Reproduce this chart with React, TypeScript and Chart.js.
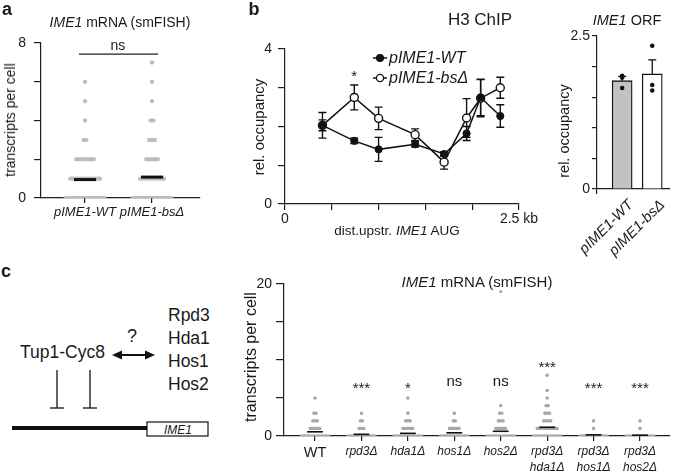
import React, { useEffect, useRef } from 'react';
import { Chart, registerables } from 'chart.js';

Chart.register(...registerables);

const FONT = "'Liberation Sans', Arial, Helvetica, sans-serif";
const AX = '#1e1e1e';
const TXT = '#1a1a1a';
Chart.defaults.font.family = FONT;
Chart.defaults.color = TXT;

// ---------------- data ----------------
// panel a : IME1 mRNA (smFISH), dots per row at each transcript level
const aCategories = ['pIME1-WT', 'pIME1-bsΔ'];
const aLevels = [0, 1, 2, 3, 4, 5, 6, 7];
const aDotsWT = [14, 11, 7, 2, 1, 1, 1, 0];
const aDotsBs = [14, 9, 5, 3, 2, 1, 1, 1];
const aMeans = [0.95, 1.08];
const aSigText = 'ns';
const aYTicks = [0, 8];

// panel b : H3 ChIP
const bDistKb = [0.4, 0.74, 1.0, 1.39, 1.7, 1.94, 2.09, 2.3];
const bWT = [2.03, 1.63, 1.41, 1.54, 1.29, 1.82, 2.75, 2.27];
const bWTErr = [0.33, 0.07, 0.31, 0.07, 0.06, 0.18, 0.47, 0.29];
const bBs = [2.03, 2.75, 2.21, 1.79, 1.08, 2.22, 2.73, 3.0];
const bBsErr = [0.14, 0.32, 0.29, 0.15, 0.18, 0.5, 0.48, 0.27];
const bSeries = ['pIME1-WT', 'pIME1-bsΔ'];
const bStar = { x: 0.74, y: 3.17, text: '*' };

// panel b : IME1 ORF
const orfCategories = ['pIME1-WT', 'pIME1-bsΔ'];
const orfMeans = [1.77, 1.88];
const orfErr = [0.07, 0.23];
const orfRepsWT = [1.85, 1.82, 1.65];
const orfRepsBs = [2.34, 1.7, 1.61];

// panel c : IME1 mRNA (smFISH) in HDAC mutants
const cCategories = [
  ['WT'],
  ['rpd3Δ'],
  ['hda1Δ'],
  ['hos1Δ'],
  ['hos2Δ'],
  ['rpd3Δ', 'hda1Δ'],
  ['rpd3Δ', 'hos1Δ'],
  ['rpd3Δ', 'hos2Δ'],
];
const cLevels = [0, 1, 2, 3, 4, 5, 6, 7, 8];
const cDots = [
  [12, 5, 3, 2, 0, 1, 0, 0, 0],
  [12, 3, 2, 1, 0, 0, 0, 0, 0],
  [12, 5, 3, 1, 0, 1, 0, 0, 0],
  [12, 5, 2, 1, 0, 0, 0, 0, 0],
  [12, 5, 3, 2, 1, 0, 0, 0, 0],
  [12, 9, 4, 3, 2, 1, 1, 0, 1],
  [12, 1, 1, 0, 0, 0, 0, 0, 0],
  [12, 1, 1, 0, 0, 0, 0, 0, 0],
];
const cOutliers = [[], [], [], [], [19], [], [], []];
const cMeans = [0.55, 0.22, 0.35, 0.42, 0.62, 1.15, 0.15, 0.1];
const cSig = ['', '***', '*', 'ns', 'ns', '***', '***', '***'];
const cSigY = [0, 5.7, 5.7, 6.55, 6.55, 8.45, 5.7, 5.7];
const cYTicks = [0, 20];

// ---------------- helpers ----------------
function beeswarmRows(rowsPerCat: number[][], levels: number[], spacing: number, radius: number, color: string) {
  const out: any[] = [];
  rowsPerCat.forEach((rows, ci) => {
    rows.forEach((n, li) => {
      if (!n) return;
      const half = ((n - 1) / 2) * spacing;
      out.push({
        type: 'scatter',
        showLine: true,
        data: [
          { x: ci + 1 - half, y: levels[li] },
          { x: ci + 1 + half, y: levels[li] },
        ],
        borderColor: color,
        borderWidth: radius * 2,
        borderCapStyle: 'butt',
        pointRadius: radius,
        pointBackgroundColor: color,
        pointBorderWidth: 0,
        order: 3,
      });
    });
  });
  return out;
}

function meanLines(means: number[], half: number, width: number) {
  return means.map((m, i) => ({
    type: 'scatter',
    showLine: true,
    data: [
      { x: i + 1 - half, y: m },
      { x: i + 1 + half, y: m },
    ],
    borderColor: '#111',
    borderWidth: width,
    pointRadius: 0,
    order: 0,
  }));
}

function drawErrors(chart: any, when: string) {
  const { ctx } = chart;
  chart.data.datasets.forEach((ds: any, di: number) => {
    const eb = ds.errorBars;
    if (!eb || eb.when !== when) return;
    const meta = chart.getDatasetMeta(di);
    const ys = chart.scales[meta.yAxisID];
    ctx.save();
    ctx.strokeStyle = eb.color;
    ctx.lineWidth = eb.width;
    meta.data.forEach((el: any, i: number) => {
      const raw = ds.data[i];
      const v = typeof raw === 'number' ? raw : raw.y;
      const e = eb.values[i];
      const x = el.x;
      const yTop = ys.getPixelForValue(v + e);
      const yBot = ys.getPixelForValue(eb.upperOnly ? v : v - e);
      ctx.beginPath();
      ctx.moveTo(x, yTop);
      ctx.lineTo(x, yBot);
      ctx.moveTo(x - eb.cap, yTop);
      ctx.lineTo(x + eb.cap, yTop);
      if (!eb.upperOnly) {
        ctx.moveTo(x - eb.cap, yBot);
        ctx.lineTo(x + eb.cap, yBot);
      }
      ctx.stroke();
    });
    ctx.restore();
  });
}

const errorPlugin = {
  id: 'errorBars',
  beforeDatasetsDraw(chart: any) {
    drawErrors(chart, 'before');
  },
  afterDatasetsDraw(chart: any) {
    drawErrors(chart, 'after');
  },
};

function makeTextPlugin(items: { x: number; y: number; text: string }[], size: number) {
  return {
    id: 'dataText',
    afterDatasetsDraw(chart: any) {
      const { ctx } = chart;
      const xs = chart.scales.x;
      const ys = chart.scales.y;
      ctx.save();
      ctx.fillStyle = TXT;
      ctx.textAlign = 'center';
      ctx.textBaseline = 'alphabetic';
      ctx.font = `${size}px ${FONT}`;
      items.forEach((it) => {
        if (!it.text) return;
        ctx.fillText(it.text, xs.getPixelForValue(it.x), ys.getPixelForValue(it.y));
      });
      ctx.restore();
    },
  };
}

function axis(extra: any, tickLength: number, padding: number, fontSize: number) {
  return {
    type: 'linear',
    grid: { display: true, drawOnChartArea: false, drawTicks: true, tickLength, color: AX, lineWidth: 1.2 },
    border: { display: true, color: AX, width: 1.2 },
    ...extra,
    ticks: {
      color: TXT,
      padding,
      autoSkip: false,
      maxRotation: 0,
      minRotation: 0,
      font: { family: FONT, size: fontSize },
      ...(extra.ticks || {}),
    },
  };
}

function base(padding: any) {
  return {
    responsive: false,
    maintainAspectRatio: false,
    animation: false,
    events: [],
    layout: { padding },
    plugins: { legend: { display: false }, tooltip: { enabled: false }, title: { display: false } },
  };
}

// ---------------- chart configs ----------------
function configA(): any {
  const spacing = 3 / 67;
  const datasets: any[] = [
    ...meanLines(aMeans, 0.165, 3),
    ...beeswarmRows([aDotsWT, aDotsBs], aLevels, spacing, 2, '#bdbdbd'),
    {
      type: 'scatter',
      showLine: true,
      data: [
        { x: 0.91, y: 7.43 },
        { x: 2.09, y: 7.43 },
      ],
      borderColor: AX,
      borderWidth: 1.2,
      pointRadius: 0,
      order: 0,
    },
  ];
  return {
    type: 'scatter',
    data: { datasets },
    options: {
      ...base({ left: 0, top: 43, right: 12, bottom: 0 }),
      scales: {
        x: axis(
          {
            min: 0.343,
            max: 2.716,
            afterBuildTicks: (s: any) => {
              s.ticks = aCategories.map((_, i) => ({ value: i + 1 }));
            },
            afterFit: (s: any) => {
              s.height = 42;
            },
            ticks: { callback: (_v: any, i: number) => aCategories[i], font: { family: FONT, size: 13, style: 'italic' } },
          },
          5,
          2,
          13
        ),
        y: axis(
          {
            min: 0,
            max: 8,
            afterFit: (s: any) => {
              s.width = 41;
            },
            ticks: { stepSize: 2, callback: (v: number) => (aYTicks.includes(v) ? String(v) : '') },
          },
          7,
          8,
          14
        ),
      },
    },
    plugins: [makeTextPlugin([{ x: 1.49, y: 7.63, text: aSigText }], 14)],
  };
}

function configBLine(): any {
  return {
    type: 'scatter',
    data: {
      datasets: [
        {
          label: bSeries[0],
          showLine: true,
          data: bDistKb.map((x, i) => ({ x, y: bWT[i] })),
          borderColor: '#111',
          borderWidth: 1.5,
          pointRadius: 3.6,
          pointBackgroundColor: '#111',
          pointBorderColor: '#111',
          pointBorderWidth: 1,
          errorBars: { values: bWTErr, cap: 4, width: 1.4, color: '#111', when: 'before' },
          order: 0,
        },
        {
          label: bSeries[1],
          showLine: true,
          data: bDistKb.map((x, i) => ({ x, y: bBs[i] })),
          borderColor: '#111',
          borderWidth: 1.5,
          pointRadius: 4,
          pointBackgroundColor: '#fff',
          pointBorderColor: '#111',
          pointBorderWidth: 1.4,
          errorBars: { values: bBsErr, cap: 4, width: 1.4, color: '#111', when: 'before' },
          order: 1,
        },
      ],
    },
    options: {
      ...base({ left: 0, top: 49, right: 33, bottom: 0 }),
      scales: {
        x: axis(
          {
            min: 0,
            max: 2.5,
            afterFit: (s: any) => {
              s.height = 36;
            },
            ticks: {
              stepSize: 0.5,
              callback: (v: number) => (v === 0 ? '0' : Math.abs(v - 2.5) < 1e-6 ? '2.5 kb' : ''),
            },
          },
          6,
          1,
          14
        ),
        y: axis(
          {
            min: 0,
            max: 4,
            afterFit: (s: any) => {
              s.width = 53;
            },
            ticks: { stepSize: 1, callback: (v: number) => (v === 0 || v === 4 ? String(v) : '') },
          },
          7,
          6,
          14
        ),
      },
    },
    plugins: [errorPlugin, makeTextPlugin([bStar], 15)],
  };
}

function configBBar(): any {
  return {
    type: 'bar',
    data: {
      datasets: [
        {
          type: 'scatter',
          data: [
            ...orfRepsWT.map((y) => ({ x: 1, y })),
            ...orfRepsBs.map((y) => ({ x: 2, y })),
          ],
          pointRadius: 2.3,
          pointBackgroundColor: '#111',
          pointBorderWidth: 0,
          order: 0,
        },
        {
          type: 'bar',
          data: orfMeans.map((y, i) => ({ x: i + 1, y })),
          backgroundColor: ['#c2c2c2', '#ffffff'],
          borderColor: '#111',
          borderWidth: 1.3,
          barThickness: 20,
          errorBars: { values: orfErr, cap: 4, width: 1.3, color: '#111', upperOnly: true, when: 'after' },
          order: 1,
        },
      ],
    },
    options: {
      ...base({ left: 0, top: 36, right: 3, bottom: 0 }),
      scales: {
        x: axis(
          {
            min: 0.164,
            max: 2.59,
            offset: false,
            afterBuildTicks: (s: any) => {
              s.ticks = [{ value: 1.5 }];
            },
            afterFit: (s: any) => {
              s.height = 51;
            },
            ticks: { callback: () => '' },
          },
          5,
          0,
          12
        ),
        y: axis(
          {
            min: 0,
            max: 2.5,
            afterFit: (s: any) => {
              s.width = 41;
            },
            ticks: { stepSize: 0.5, callback: (v: number) => (v === 0 ? '0' : Math.abs(v - 2.5) < 1e-6 ? '2.5' : '') },
          },
          5,
          2,
          14
        ),
      },
    },
    plugins: [errorPlugin],
  };
}

function configC(): any {
  const spacing = 2.5 / 46.43;
  const outlierPts: any[] = [];
  cOutliers.forEach((vals, i) => vals.forEach((y) => outlierPts.push({ x: i + 1, y })));
  const datasets: any[] = [
    ...meanLines(cMeans, 0.17, 1.6),
    ...beeswarmRows(cDots, cLevels, spacing, 1.6, '#a8a8a8'),
    {
      type: 'scatter',
      data: outlierPts,
      pointRadius: 1.6,
      pointBackgroundColor: '#a8a8a8',
      pointBorderWidth: 0,
      order: 3,
    },
  ];
  return {
    type: 'scatter',
    data: { datasets },
    options: {
      ...base({ left: 0, top: 34, right: 4, bottom: 0 }),
      scales: {
        x: axis(
          {
            min: 0.332,
            max: 8.646,
            afterBuildTicks: (s: any) => {
              s.ticks = cCategories.map((_, i) => ({ value: i + 1 }));
            },
            afterFit: (s: any) => {
              s.height = 36;
            },
            ticks: {
              callback: (_v: any, i: number) => cCategories[i],
              font: (ctx: any) =>
                ctx.index === 0
                  ? { family: FONT, size: 14.5, lineHeight: 1.2 }
                  : { family: FONT, size: 12, style: 'italic', lineHeight: 1.3 },
            },
          },
          5,
          3,
          12
        ),
        y: axis(
          {
            min: 0,
            max: 20,
            afterFit: (s: any) => {
              s.width = 52;
            },
            ticks: { stepSize: 5, callback: (v: number) => (cYTicks.includes(v) ? String(v) : '') },
          },
          8,
          4,
          14
        ),
      },
    },
    plugins: [makeTextPlugin(cSig.map((t, i) => ({ x: i + 1, y: cSigY[i], text: t })), 15)],
  };
}

// ---------------- components ----------------
function ChartBox(props: { left: number; top: number; width: number; height: number; make: () => any }) {
  const ref = useRef<HTMLCanvasElement | null>(null);
  useEffect(() => {
    const chart = new Chart(ref.current as HTMLCanvasElement, props.make());
    return () => chart.destroy();
  }, []);
  return (
    <canvas
      ref={ref}
      width={props.width}
      height={props.height}
      style={{ position: 'absolute', left: props.left, top: props.top, width: props.width, height: props.height }}
    />
  );
}

function Txt(props: { x: number; y: number; size: number; rotate?: number; bold?: boolean; italic?: boolean; children: any }) {
  return (
    <div
      style={{
        position: 'absolute',
        left: props.x,
        top: props.y,
        transform: `translate(-50%, -50%) rotate(${props.rotate || 0}deg)`,
        fontFamily: FONT,
        fontSize: props.size,
        fontWeight: props.bold ? 700 : 400,
        fontStyle: props.italic ? 'italic' : 'normal',
        color: TXT,
        whiteSpace: 'nowrap',
        lineHeight: 1,
      }}
    >
      {props.children}
    </div>
  );
}

function RotLabel(props: { right: number; y: number; text: string }) {
  return (
    <div
      style={{
        position: 'absolute',
        right: 674 - props.right,
        top: props.y - 8,
        height: 16,
        lineHeight: '16px',
        transformOrigin: 'right center',
        transform: 'rotate(-45deg)',
        fontFamily: FONT,
        fontSize: 14.5,
        fontStyle: 'italic',
        color: TXT,
        whiteSpace: 'nowrap',
      }}
    >
      {props.text}
    </div>
  );
}

function LegendRow(props: { y: number; filled: boolean; text: string }) {
  return (
    <div style={{ position: 'absolute', left: 372, top: props.y - 9, height: 18, display: 'flex', alignItems: 'center' }}>
      <svg width={16} height={18} style={{ display: 'block' }}>
        <line x1={1} y1={9} x2={15} y2={9} stroke="#111" strokeWidth={1.5} />
        <circle cx={8} cy={9} r={props.filled ? 3.4 : 3.6} fill={props.filled ? '#111' : '#fff'} stroke="#111" strokeWidth={1.3} />
      </svg>
      <span style={{ fontFamily: FONT, fontSize: 16, fontStyle: 'italic', color: TXT, marginLeft: 1, whiteSpace: 'nowrap' }}>
        {props.text}
      </span>
    </div>
  );
}

function Diagram() {
  const f = FONT;
  return (
    <svg width={232} height={222} style={{ position: 'absolute', left: 0, top: 250 }}>
      <text x={20} y={108} fontFamily={f} fontSize={17.5} fill={TXT}>
        Tup1-Cyc8
      </text>
      <text x={132} y={92} fontFamily={f} fontSize={18} fill={TXT} textAnchor="middle">
        ?
      </text>
      <line x1={119} y1={105} x2={148} y2={105} stroke="#111" strokeWidth={2} />
      <polygon points="112,105 122,100.5 122,109.5" fill="#111" />
      <polygon points="155,105 145,100.5 145,109.5" fill="#111" />
      {['Rpd3', 'Hda1', 'Hos1', 'Hos2'].map((t, i) => (
        <text key={t} x={168} y={71 + i * 23} fontFamily={f} fontSize={17.5} fill={TXT}>
          {t}
        </text>
      ))}
      <line x1={57} y1={120} x2={57} y2={158} stroke="#111" strokeWidth={1.3} />
      <line x1={50} y1={158} x2={64} y2={158} stroke="#111" strokeWidth={1.3} />
      <line x1={90} y1={120} x2={90} y2={158} stroke="#111" strokeWidth={1.3} />
      <line x1={83} y1={158} x2={97} y2={158} stroke="#111" strokeWidth={1.3} />
      <line x1={12} y1={178} x2={147} y2={178} stroke="#111" strokeWidth={4} />
      <rect x={147} y={172} width={61} height={14} fill="#fff" stroke="#111" strokeWidth={1.2} />
      <text x={178} y={183.5} fontFamily={f} fontSize={12} fontStyle="italic" fill={TXT} textAnchor="middle">
        IME1
      </text>
    </svg>
  );
}

export default function App() {
  return (
    <div style={{ position: 'absolute', left: 0, top: 0, width: 674, height: 472, background: '#fff', overflow: 'hidden' }}>
      <ChartBox left={0} top={0} width={212} height={240} make={configA} />
      <ChartBox left={232} top={0} width={320} height={240} make={configBLine} />
      <ChartBox left={556} top={0} width={118} height={240} make={configBBar} />
      <ChartBox left={232} top={250} width={442} height={222} make={configC} />

      <Txt x={7} y={9} size={18} bold>
        a
      </Txt>
      <Txt x={254} y={9} size={18} bold>
        b
      </Txt>
      <Txt x={6} y={271} size={18} bold>
        c
      </Txt>

      <Txt x={120} y={22} size={14}>
        <i>IME1</i> mRNA (smFISH)
      </Txt>
      <Txt x={10} y={120} size={14} rotate={-90}>
        transcripts per cell
      </Txt>

      <Txt x={480} y={19} size={17}>
        H3 ChIP
      </Txt>
      <Txt x={258} y={127} size={15} rotate={-90}>
        rel. occupancy
      </Txt>
      <Txt x={397} y={231} size={13.5}>
        dist.upstr. <i>IME1</i> AUG
      </Txt>
      <LegendRow y={57.5} filled text={bSeries[0]} />
      <LegendRow y={77.5} filled={false} text={bSeries[1]} />

      <Txt x={627} y={20} size={14.5}>
        <i>IME1</i> ORF
      </Txt>
      <Txt x={564} y={131} size={14.5} rotate={-90}>
        rel. occupancy
      </Txt>
      <RotLabel right={630} y={202} text={orfCategories[0]} />
      <RotLabel right={662} y={202} text={orfCategories[1]} />

      <Txt x={477} y={281} size={15}>
        <i>IME1</i> mRNA (smFISH)
      </Txt>
      <Txt x={251} y={357} size={16} rotate={-90}>
        transcripts per cell
      </Txt>

      <Diagram />
    </div>
  );
}
